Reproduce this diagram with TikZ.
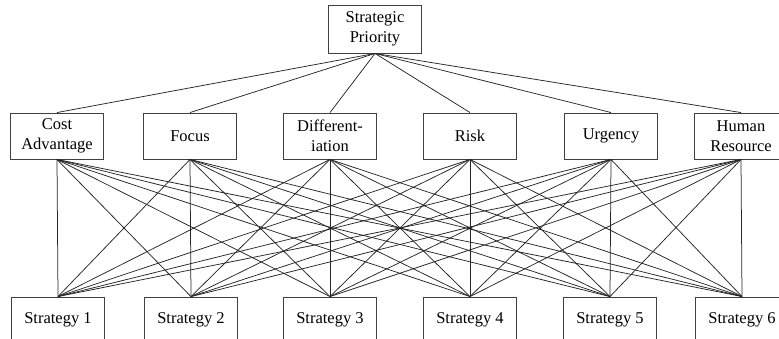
\documentclass[tikz,border=0pt]{standalone}
\usepackage{fontspec}
\setmainfont{Liberation Serif}

\begin{document}
\begin{tikzpicture}[x=1pt,y=1pt,
  box/.style={draw=black!75, line width=0.9pt, fill=white, align=center,
    minimum width=93pt, minimum height=46pt, inner sep=1pt,
    font=\fontsize{16.5}{19.5}\selectfont},
  link/.style={black!85, line width=0.75pt}]
\useasboundingbox (0,0) rectangle (779,-338);
\clip (0,0) rectangle (779,-338);

%\fill[fill=white] (0,0) rectangle (779,-338);

\node[box, minimum height=48pt] (prio) at (375,-29) {Strategic\\Priority};

% criteria
\node[box] (c1) at (57,-136) {Cost\\Advantage};
\node[box] (c2) at (190,-136) {Focus};
\node[box] (c3) at (330,-136) {Different-\\iation};
\node[box] (c4) at (470,-136) {Risk};
\node[box] (c5) at (611,-136) {Urgency};
\node[box] (c6) at (741,-136) {Human\\Resource};

% strategies
\node[box] (s1) at (58,-320) {Strategy 1};
\node[box] (s2) at (191,-320) {Strategy 2};
\node[box] (s3) at (330,-320) {Strategy 3};
\node[box] (s4) at (470,-320) {Strategy 4};
\node[box] (s5) at (610,-320) {Strategy 5};
\node[box] (s6) at (742,-320) {Strategy 6};

\foreach \i in {1,...,6}
\draw[link] (prio.south) -- (c\i.north);

\foreach \i in {1,...,6}
\foreach \j in {1,...,6}
\draw[link] (c\i.south) -- (s\j.north);

\end{tikzpicture}
\end{document}
